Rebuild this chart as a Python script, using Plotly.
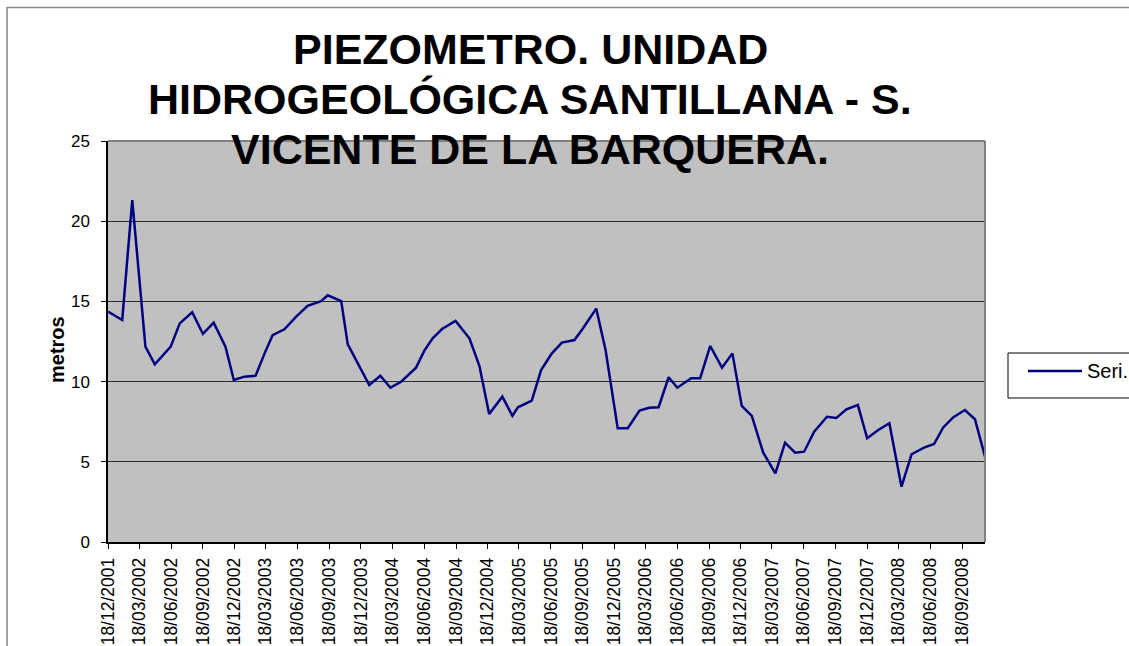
import plotly.graph_objects as go

# ---- data ----
dates = [
    "2001-12-18", "2002-01-28", "2002-02-26", "2002-04-05", "2002-05-02", "2002-06-17",
    "2002-07-13", "2002-08-18", "2002-09-18", "2002-10-19", "2002-11-22", "2002-12-16",
    "2003-01-16", "2003-02-17", "2003-03-15", "2003-04-07", "2003-05-11", "2003-06-14",
    "2003-07-17", "2003-08-25", "2003-09-13", "2003-10-22", "2003-11-10", "2003-12-11",
    "2004-01-11", "2004-02-12", "2004-03-12", "2004-04-12", "2004-05-25", "2004-06-18",
    "2004-07-12", "2004-08-08", "2004-09-16", "2004-10-26", "2004-11-24", "2004-12-22",
    "2005-01-29", "2005-02-27", "2005-03-15", "2005-04-24", "2005-05-21", "2005-06-21",
    "2005-07-20", "2005-08-25", "2005-09-17", "2005-10-27", "2005-11-23", "2005-12-28",
    "2006-01-26", "2006-03-01", "2006-03-29", "2006-04-25", "2006-05-24", "2006-06-18",
    "2006-07-28", "2006-08-23", "2006-09-21", "2006-10-25", "2006-11-24", "2006-12-21",
    "2007-01-19", "2007-02-21", "2007-03-28", "2007-04-25", "2007-05-24", "2007-06-19",
    "2007-07-18", "2007-08-24", "2007-09-20", "2007-10-19", "2007-11-21", "2007-12-18",
    "2008-01-19", "2008-02-20", "2008-03-26", "2008-04-24", "2008-05-30", "2008-06-28",
    "2008-07-24", "2008-08-22", "2008-09-25", "2008-10-24", "2008-11-22",
]
metros = [
    14.36, 13.84, 21.32, 12.18, 11.08, 12.18,
    13.63, 14.32, 12.97, 13.67, 12.18, 10.10,
    10.31, 10.37, 11.76, 12.89, 13.26, 14.05,
    14.73, 15.02, 15.38, 15.02, 12.32, 11.05,
    9.79, 10.37, 9.62, 9.99, 10.87, 11.93,
    12.70, 13.28, 13.78, 12.70, 10.97, 7.98,
    9.06, 7.87, 8.40, 8.81, 10.72, 11.76,
    12.43, 12.59, 13.26, 14.55, 11.97, 7.09,
    7.09, 8.19, 8.37, 8.40, 10.27, 9.62,
    10.21, 10.21, 12.22, 10.87, 11.76, 8.48,
    7.86, 5.57, 4.28, 6.19, 5.57, 5.63,
    6.88, 7.81, 7.73, 8.27, 8.54, 6.47,
    6.98, 7.40, 3.45, 5.47, 5.88, 6.11,
    7.13, 7.77, 8.23, 7.65, 5.32,
]
tick_dates = [
    "2001-12-18", "2002-03-18", "2002-06-18", "2002-09-18", "2002-12-18",
    "2003-03-18", "2003-06-18", "2003-09-18", "2003-12-18",
    "2004-03-18", "2004-06-18", "2004-09-18", "2004-12-18",
    "2005-03-18", "2005-06-18", "2005-09-18", "2005-12-18",
    "2006-03-18", "2006-06-18", "2006-09-18", "2006-12-18",
    "2007-03-18", "2007-06-18", "2007-09-18", "2007-12-18",
    "2008-03-18", "2008-06-18", "2008-09-18",
]
tick_labels = [
    "18/12/2001", "18/03/2002", "18/06/2002", "18/09/2002", "18/12/2002",
    "18/03/2003", "18/06/2003", "18/09/2003", "18/12/2003",
    "18/03/2004", "18/06/2004", "18/09/2004", "18/12/2004",
    "18/03/2005", "18/06/2005", "18/09/2005", "18/12/2005",
    "18/03/2006", "18/06/2006", "18/09/2006", "18/12/2006",
    "18/03/2007", "18/06/2007", "18/09/2007", "18/12/2007",
    "18/03/2008", "18/06/2008", "18/09/2008",
]
title_lines = ["PIEZOMETRO. UNIDAD", "HIDROGEOLÓGICA SANTILLANA - S.", "VICENTE DE LA BARQUERA."]
series_name = "Seri."
y_title = "metros"

# ---- layout geometry (pixels) ----
W, H = 1129, 646
L, R, T, B = 108, 985, 141, 542
PW, PH = R - L, B - T
FONT = "Liberation Sans, Arial, sans-serif"


def px(x):
    return (x - L) / PW


def py(y):
    return (B - y) / PH


fig = go.Figure()
fig.add_trace(go.Scatter(
    x=dates, y=metros, mode="lines", name=series_name,
    line=dict(color="#000080", width=2.5), showlegend=False,
))

annotations = []
for i, line in enumerate(title_lines):
    annotations.append(dict(
        text=f"<b>{line}</b>", x=px(530), y=py(49 + 50 * i), xref="paper", yref="paper",
        xanchor="center", yanchor="middle", showarrow=False,
        font=dict(family=FONT, size=43, color="black"),
    ))
annotations.append(dict(
    text=f"<b>{y_title}</b>", x=px(57), y=py(350), xref="paper", yref="paper",
    xanchor="center", yanchor="middle", showarrow=False, textangle=-90,
    font=dict(family=FONT, size=20, color="black"),
))
annotations.append(dict(
    text=series_name, x=px(1085), y=py(371), xref="paper", yref="paper",
    xanchor="left", yanchor="middle", showarrow=False,
    font=dict(family=FONT, size=20, color="black"),
))

shapes = [
    # chart area border (left and top)
    dict(type="line", xref="paper", yref="paper", x0=px(7), x1=px(7), y0=py(7), y1=py(700),
         line=dict(color="#a0a0a0", width=2)),
    dict(type="line", xref="paper", yref="paper", x0=px(7), x1=px(1200), y0=py(7.5), y1=py(7.5),
         line=dict(color="#8a8a8a", width=1.5)),
    # plot area border top / right
    dict(type="line", xref="paper", yref="paper", x0=0, x1=1, y0=1, y1=1,
         line=dict(color="#808080", width=2)),
    dict(type="line", xref="paper", yref="paper", x0=1, x1=1, y0=0, y1=1,
         line=dict(color="#808080", width=2)),
    # legend box and sample line
    dict(type="rect", xref="paper", yref="paper", x0=px(1008), x1=px(1200), y0=py(398), y1=py(353),
         line=dict(color="black", width=1), fillcolor="white", layer="below"),
    dict(type="line", xref="paper", yref="paper", x0=px(1028), x1=px(1082), y0=py(371), y1=py(371),
         line=dict(color="#000080", width=2.5)),
]

fig.update_layout(
    width=W, height=H,
    margin=dict(l=L, r=W - R, t=T, b=H - B, pad=0, autoexpand=False),
    paper_bgcolor="white", plot_bgcolor="#c0c0c0",
    font=dict(family=FONT, size=17, color="black"),
    annotations=annotations, shapes=shapes,
    showlegend=False,
)
fig.update_xaxes(
    type="date", range=[dates[0], dates[-1]], automargin=False,
    tickmode="array", tickvals=tick_dates, ticktext=tick_labels, tickangle=-90,
    ticks="outside", ticklen=5, tickcolor="black", tickwidth=1,
    showline=True, linecolor="black", linewidth=1.5, showgrid=False, zeroline=False,
    tickfont=dict(family=FONT, size=17.5, color="black"), ticklabelstandoff=2,
)
fig.update_yaxes(
    range=[0, 25], tickvals=[0, 5, 10, 15, 20, 25], automargin=False,
    ticks="outside", ticklen=5, tickcolor="black", tickwidth=1,
    showline=True, linecolor="black", linewidth=1.5,
    showgrid=True, gridcolor="#2a2a2a", gridwidth=1, zeroline=False,
    tickfont=dict(family=FONT, size=17, color="black"), ticklabelstandoff=8,
)

fig.write_html("out.html", config={"displayModeBar": False},
               post_script="document.body.style.margin='0';document.body.style.overflow='hidden';")
